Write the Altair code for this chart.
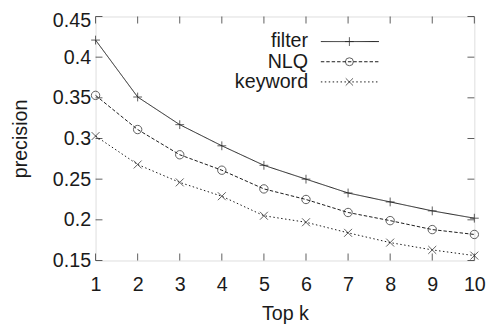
import altair as alt
import pandas as pd

topk = [1, 2, 3, 4, 5, 6, 7, 8, 9, 10]
filter_p = [0.421, 0.351, 0.317, 0.291, 0.267, 0.250, 0.233, 0.222, 0.211, 0.202]
nlq_p = [0.353, 0.311, 0.280, 0.261, 0.238, 0.225, 0.209, 0.199, 0.188, 0.182]
keyword_p = [0.303, 0.268, 0.246, 0.229, 0.205, 0.197, 0.184, 0.172, 0.163, 0.156]
series_names = ["filter", "NLQ", "keyword"]
y_ticks = [0.15, 0.2, 0.25, 0.3, 0.35, 0.4, 0.45]

W, H = 385, 248
FONT = "Liberation Sans"
FS = 20
INK = "#1a1a1a"

rows = []
for name, vals in zip(series_names, [filter_p, nlq_p, keyword_p]):
    for k, v in zip(topk, vals):
        rows.append({"k": k, "precision": v, "series": name})
df = pd.DataFrame(rows)

PLUS = "M-1,0L1,0M0,-1L0,1"
CROSS = "M-1,-1L1,1M-1,1L1,-1"
CIRCLE = "circle"
dash_range = [[1, 0], [3.5, 2], [1.5, 2.5]]
shape_range = [PLUS, CIRCLE, CROSS]
size_range = [80, 65, 55]

xs = alt.Scale(domain=[1, 10], nice=False, zero=False)
ys = alt.Scale(domain=[0.15, 0.45], nice=False, zero=False)

x_enc = alt.X("k:Q", scale=xs, title="Top k",
              axis=alt.Axis(values=topk, ticks=False, domain=False, grid=False,
                            labelFontSize=FS, titleFontSize=FS, labelPadding=15,
                            titlePadding=9, labelFont=FONT, titleFont=FONT,
                            titleFontWeight="normal", labelColor=INK, titleColor=INK,
                            labelFlush=False))
y_enc = alt.Y("precision:Q", scale=ys, title="precision",
              axis=alt.Axis(values=y_ticks, format="~g", ticks=False, domain=False, grid=False,
                            labelFontSize=FS, titleFontSize=FS, labelPadding=5,
                            labelOffset={"condition": {"test": "datum.value >= 0.449", "value": 4},
                                         "value": 0},
                            titlePadding=22, labelFont=FONT, titleFont=FONT,
                            titleFontWeight="normal", labelColor=INK, titleColor=INK))

lines = alt.Chart(df).mark_line(color=INK, strokeWidth=1).encode(
    x=x_enc, y=y_enc,
    strokeDash=alt.StrokeDash("series:N", scale=alt.Scale(domain=series_names, range=dash_range), legend=None),
)
points = alt.Chart(df).mark_point(color=INK, filled=False, strokeWidth=1).encode(
    x=alt.X("k:Q", scale=xs), y=alt.Y("precision:Q", scale=ys),
    shape=alt.Shape("series:N", scale=alt.Scale(domain=series_names, range=shape_range), legend=None),
    size=alt.Size("series:N", scale=alt.Scale(domain=series_names, range=size_range), legend=None),
)

xt = pd.DataFrame({"k": topk})
yt = pd.DataFrame({"precision": y_ticks})
tick_x_bottom = alt.Chart(xt).mark_tick(color=INK, size=7, thickness=1).encode(
    x=alt.X("k:Q", scale=xs), y=alt.value(H - 3.5))
tick_x_top = alt.Chart(xt).mark_tick(color=INK, size=7, thickness=1).encode(
    x=alt.X("k:Q", scale=xs), y=alt.value(3.5))
tick_y_left = alt.Chart(yt).mark_tick(color=INK, size=7, thickness=1).encode(
    y=alt.Y("precision:Q", scale=ys), x=alt.value(3.5))
tick_y_right = alt.Chart(yt).mark_tick(color=INK, size=7, thickness=1).encode(
    y=alt.Y("precision:Q", scale=ys), x=alt.value(W - 3.5))

legend_layers = []
for i, name in enumerate(series_names):
    ly = 25.5 + i * 20.5
    ldf = pd.DataFrame({"series": [name]})
    legend_layers.append(alt.Chart(ldf).mark_text(align="right", baseline="middle", fontSize=FS,
                                                   font=FONT, color=INK).encode(
        text="series:N", x=alt.value(216), y=alt.value(ly)))
    legend_layers.append(alt.Chart(ldf).mark_rule(color=INK, strokeWidth=1,
                                                  strokeDash=dash_range[i]).encode(
        x=alt.value(229), x2=alt.value(288), y=alt.value(ly)))
    legend_layers.append(alt.Chart(ldf).mark_point(color=INK, filled=False, strokeWidth=1,
                                                   shape=shape_range[i], size=size_range[i]).encode(
        x=alt.value(258), y=alt.value(ly)))

chart = alt.layer(
    lines, points, tick_x_bottom, tick_x_top, tick_y_left, tick_y_right, *legend_layers
).properties(
    width=W, height=H,
    autosize=alt.AutoSizeParams(type="none"),
    padding={"left": 89, "top": 6, "right": 21, "bottom": 66},
).configure_view(stroke=INK, strokeWidth=1).configure(background="white")

chart.save("out.html", embed_options={"renderer": "svg", "actions": False})
